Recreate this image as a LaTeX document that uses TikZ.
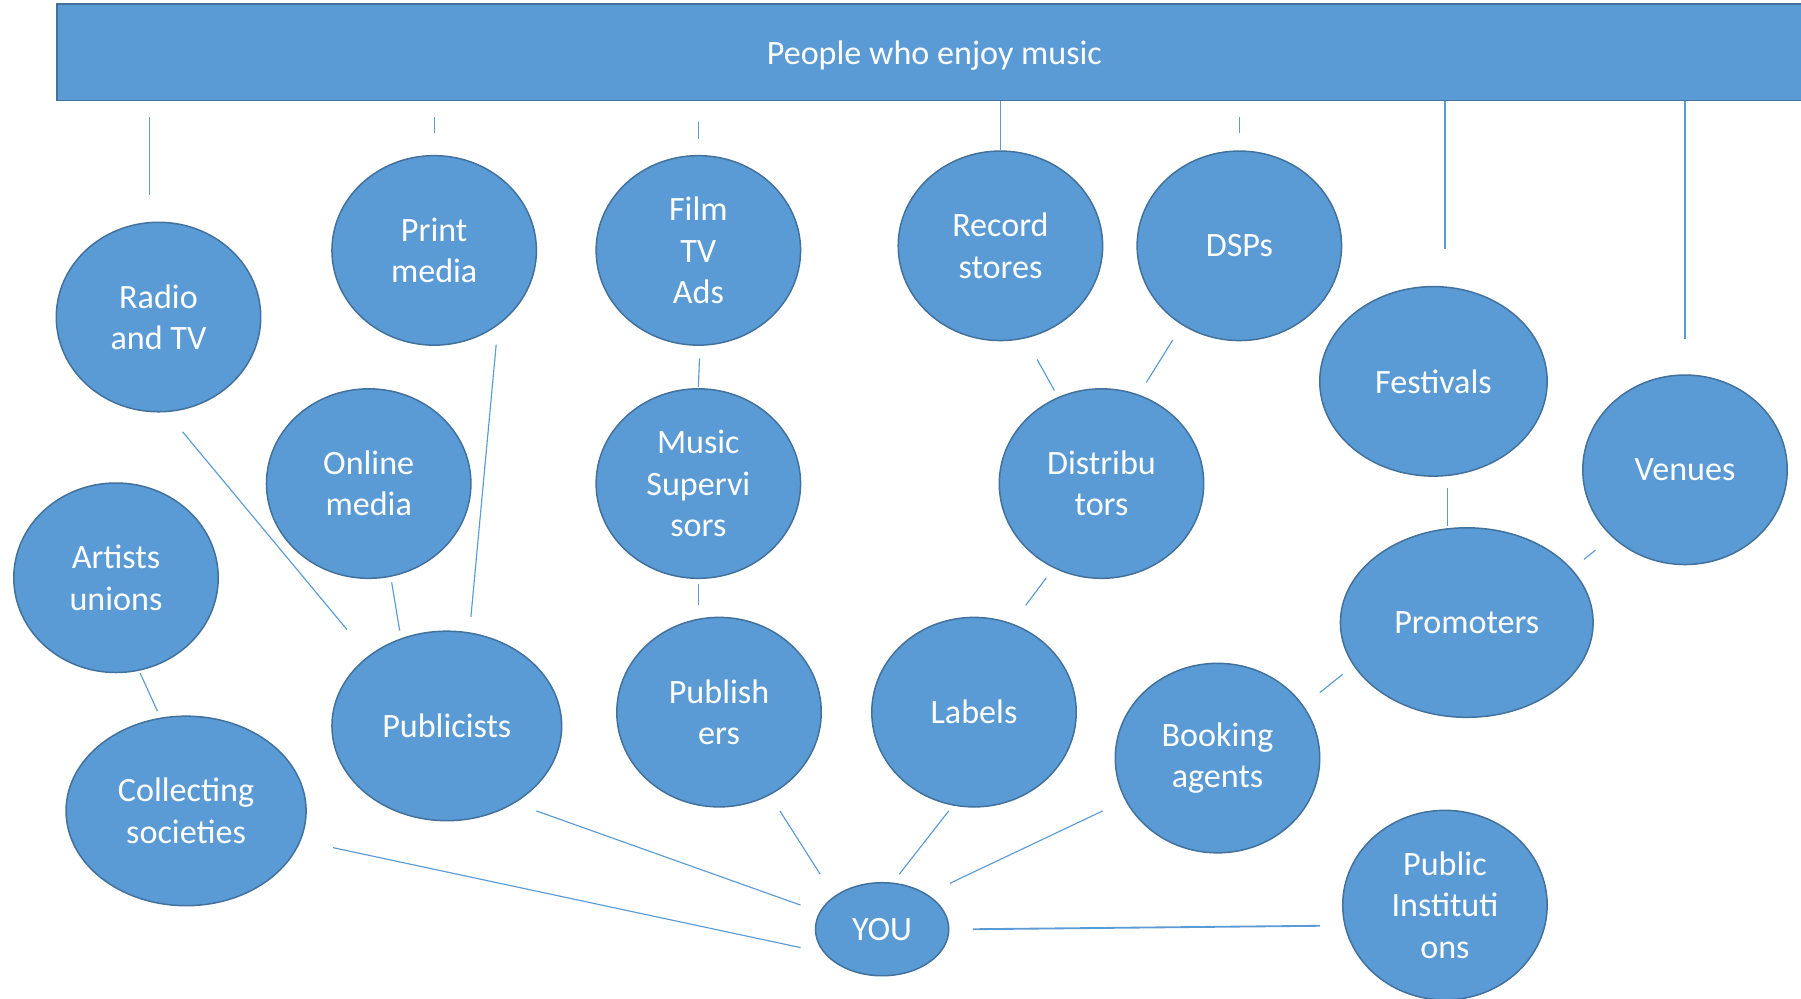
\documentclass[tikz,border=0pt]{standalone}
\usepackage{fontspec}
\setmainfont{Carlito}
\usetikzlibrary{shapes.geometric}
\definecolor{blu}{HTML}{5B9BD5}
\definecolor{bord}{HTML}{41719C}
\tikzset{
  bub/.style 2 args={ellipse, draw=bord, fill=blu, line width=0.65pt, text=white,
    inner sep=0pt, align=center, minimum width=#1, minimum height=#2,
    font=\fontsize{14.85}{18}\selectfont},
  banner/.style={rectangle, draw=bord, fill=blu, line width=0.65pt, text=white,
    inner sep=0pt, text depth=0pt, font=\fontsize{14.85}{18}\selectfont},
  link/.style={draw=blu, line width=0.5pt}
}
\begin{document}
\begin{tikzpicture}[x=0.5pt, y=-0.5pt]
\useasboundingbox (0,0) rectangle (1568,869);
\node[banner, minimum width=764pt, minimum height=42pt] (top) at (813.5,45.5) {People who enjoy music};

\node[bub={89pt}{82.5pt}] (radio) at (138,276) {Radio\\and TV};
\node[bub={89pt}{82.5pt}] (print) at (378,218) {Print\\media};
\node[bub={89pt}{82.5pt}] (film) at (608,218) {Film\\TV\\Ads};
\node[bub={89pt}{82.5pt}] (record) at (871,214) {Record\\stores};
\node[bub={89pt}{82.5pt}] (dsps) at (1079,214) {DSPs};
\node[bub={99pt}{82.5pt}] (fest) at (1248,332) {Festivals};
\node[bub={89pt}{82.5pt}] (venues) at (1467,409) {Venues};
\node[bub={89pt}{82.5pt}] (online) at (321,421) {Online\\media};
\node[bub={89pt}{82.5pt}] (music) at (608,421) {Music\\Supervi\\sors};
\node[bub={89pt}{82.5pt}] (distr) at (959,421) {Distribu\\tors};
\node[bub={89pt}{82.5pt}] (artists) at (101,503) {Artists\\unions};
\node[bub={110pt}{82.5pt}] (promo) at (1277,542) {Promoters};
\node[bub={100pt}{82.5pt}] (publicists) at (389,632) {Publicists};
\node[bub={89pt}{82.5pt}] (publishers) at (626,620) {Publish\\ers};
\node[bub={89pt}{82.5pt}] (labels) at (848,620) {Labels};
\node[bub={89pt}{82.5pt}] (booking) at (1060,660) {Booking\\agents};
\node[bub={104.5pt}{82.5pt}] (collect) at (162,706) {Collecting\\societies};
\node[bub={89pt}{82.5pt}] (public) at (1258,788) {Public\\Instituti\\ons};
\node[bub={58pt}{40.5pt}] (you) at (768,809) {YOU};

\foreach \n/\ax/\ay/\bx/\by in {
  topradio/130/102/130/170,
  topprint/378/102/378/116,
  topfilm/608/106/608/121,
  toprecord/871/88/871/131,
  topdsps/1079/102/1079/116,
  topfest/1258/88/1258/217,
  topvenues/1467/88/1467/295,
  radiopub/159/376/302/548,
  printpub/432/300/410/537,
  onlinepub/341/507/348/549,
  filmmusic/609/312/608/337,
  musicpubl/608/508/608/527,
  recorddistr/903/313/918/340,
  dspsdistr/1021/296/998/333,
  distrlabels/911/503/893/527,
  festpromo/1260/425/1260/458,
  venuespromo/1389/479/1379/487,
  promobooking/1169/587/1149/603,
  artistscoll/122/586/137/619,
  pubyou/467/706/697/788,
  collyou/290/738/697/825,
  publyou/679/706/714/761,
  labelsyou/826/706/783/761,
  bookingyou/960/706/827/769}
{
  \coordinate (\n-a) at (\ax,\ay);
  \coordinate (\n-b) at (\bx,\by);
  \draw[link] (\n-a) -- (\n-b);
}
\coordinate (youpublic-a) at (847,809);
\coordinate (youpublic-b) at (1149,806);
\draw[link, line width=0.8pt] (youpublic-a) -- (youpublic-b);
\end{tikzpicture}
\end{document}
